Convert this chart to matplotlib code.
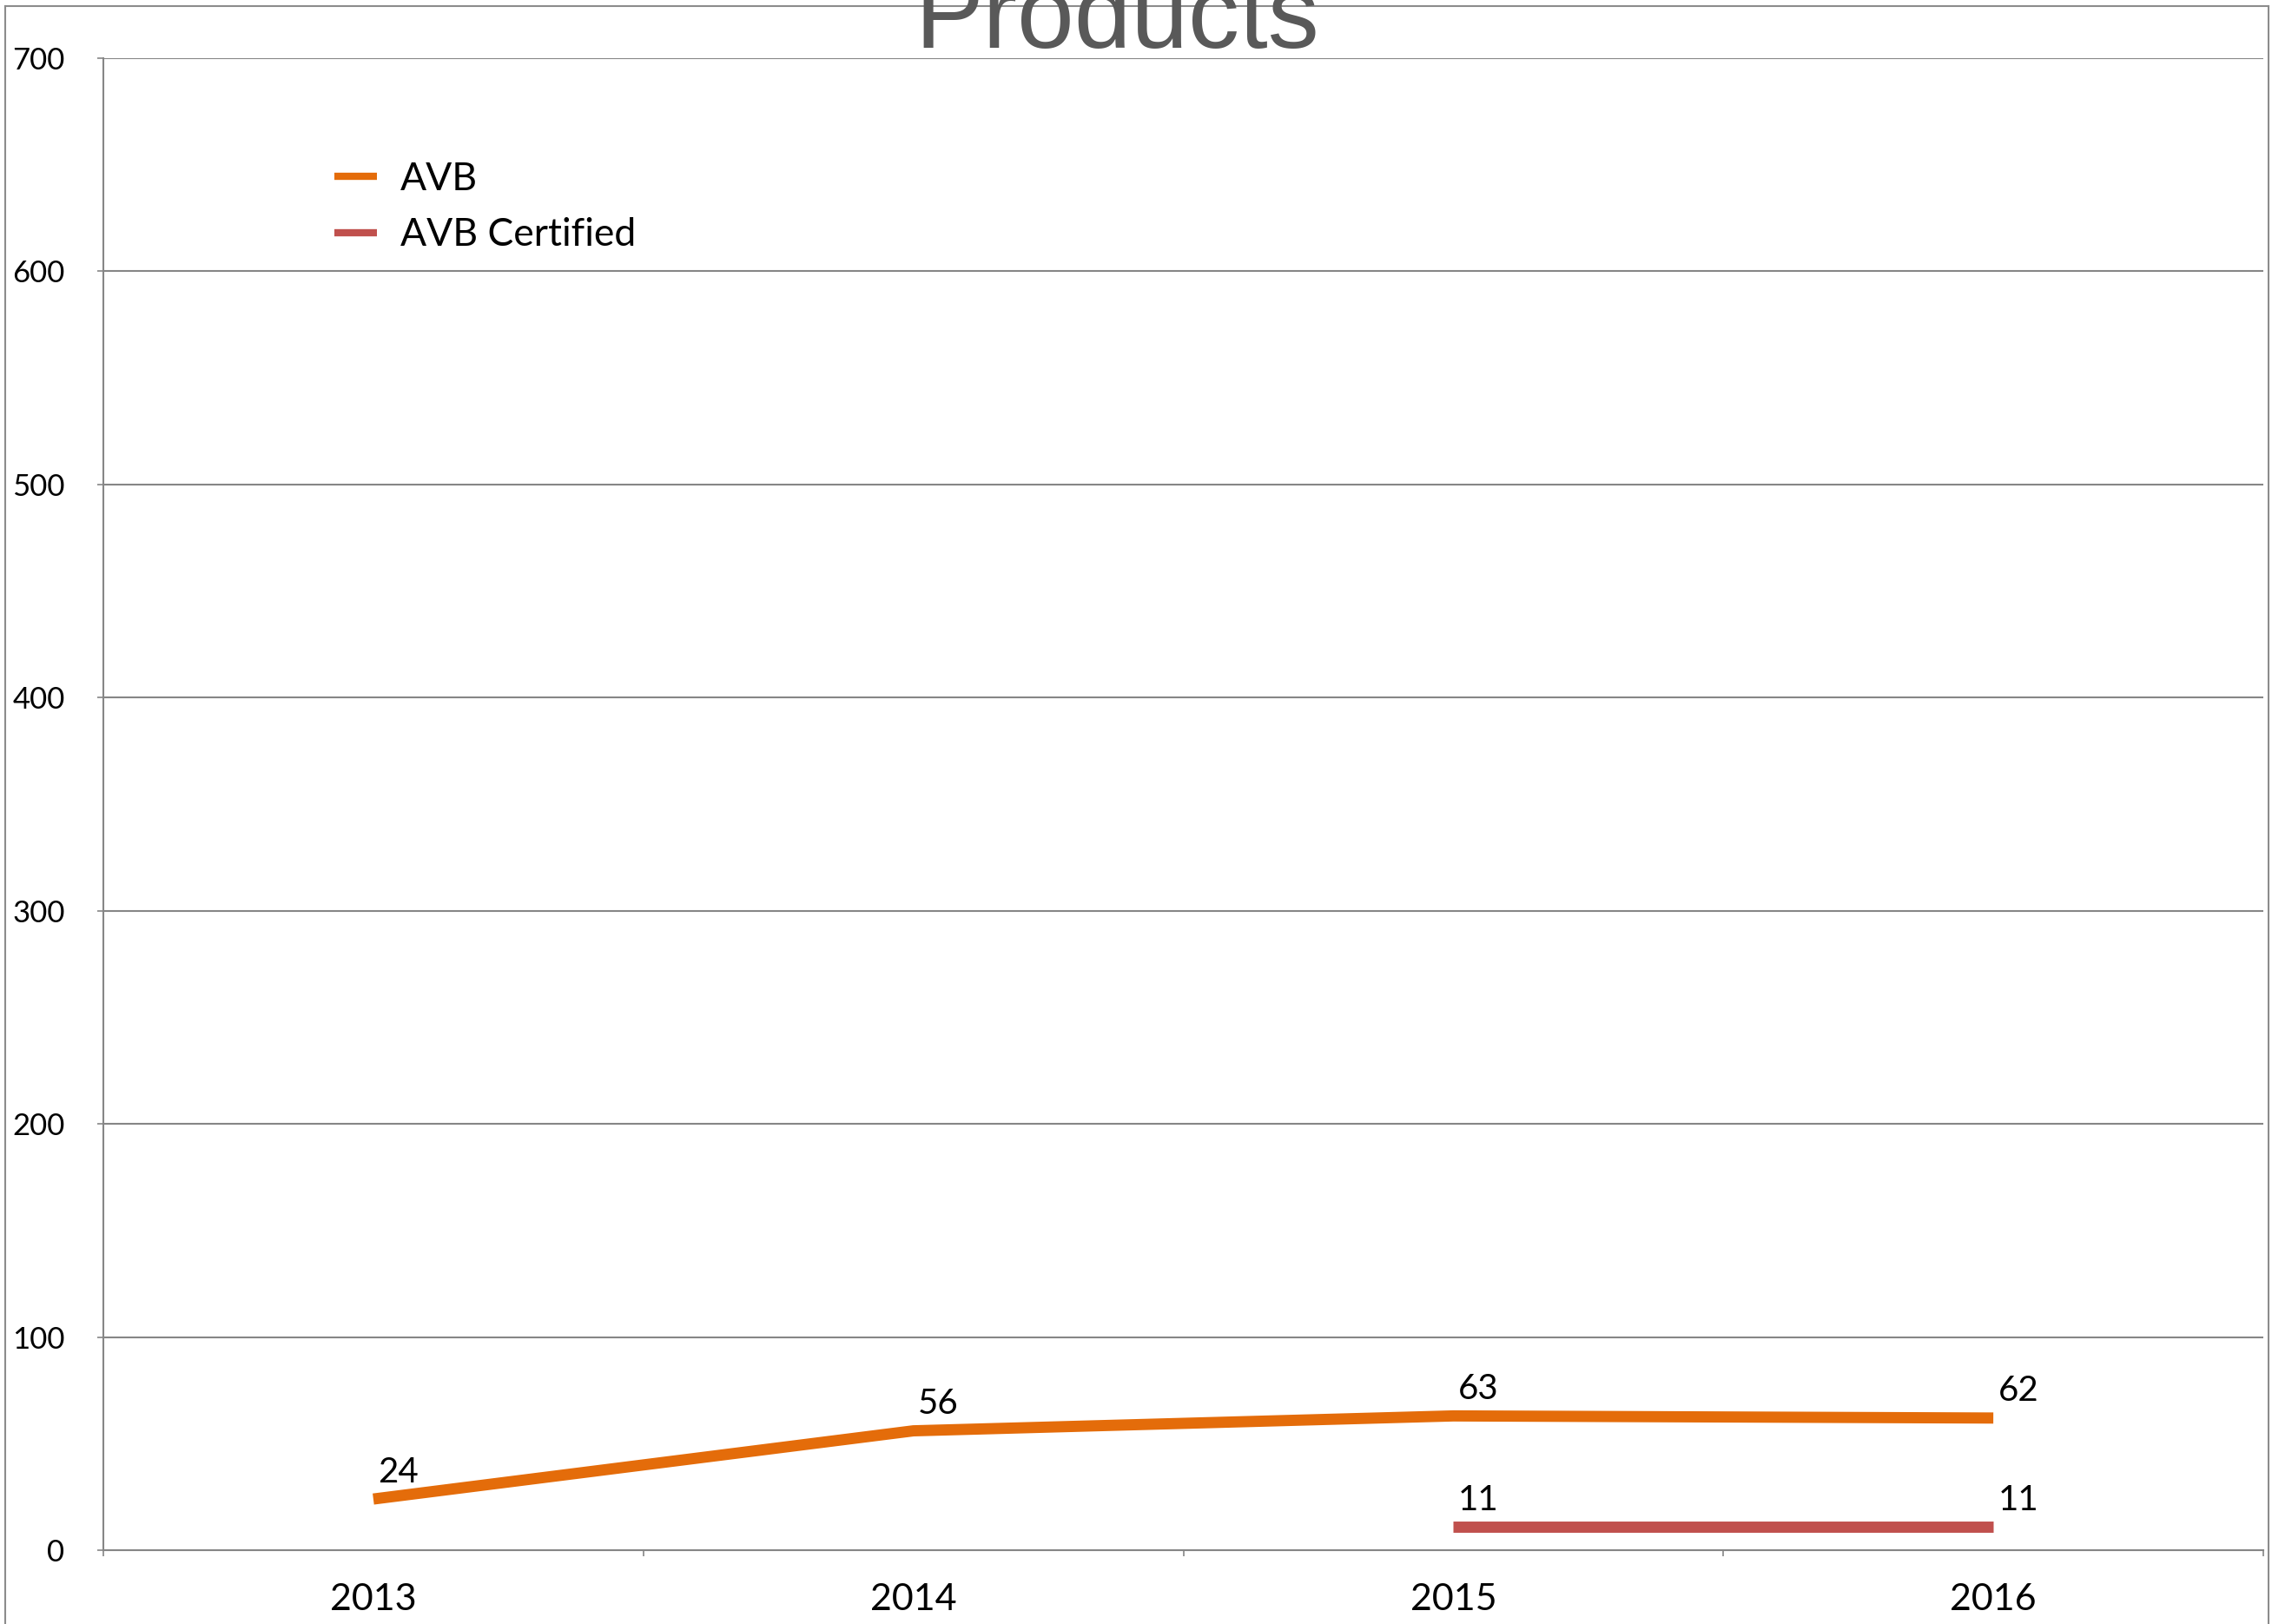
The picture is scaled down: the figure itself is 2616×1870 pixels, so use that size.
import matplotlib
matplotlib.use("Agg")
import matplotlib.pyplot as plt
from matplotlib.lines import Line2D
import numpy as np

# data
years = ["2013", "2014", "2015", "2016"]
avb = [24, 56, 63, 62]
avb_certified = [np.nan, np.nan, 11, 11]
yticks = [0, 100, 200, 300, 400, 500, 600, 700]

W, H, DPI = 2616, 1870, 100
orange = "#E46C0A"
red = "#C0504D"
grid = "#868686"

plt.rcParams["font.family"] = ["Lato", "DejaVu Sans"]

fig = plt.figure(figsize=(W / DPI, H / DPI), dpi=DPI)
ax = fig.add_axes([119 / W, 1 - 1785 / H, (2606 - 119) / W, (1785 - 67) / H])

x = np.arange(len(years))
ax.plot(x, avb, color=orange, lw=9.3, solid_capstyle="butt", solid_joinstyle="miter", label="AVB", zorder=3)
ax.plot(x, avb_certified, color=red, lw=9.3, solid_capstyle="butt", label="AVB Certified", zorder=3)

# data labels
for xi, v in zip(x, avb):
    ax.annotate(str(v), (xi, v), xytext=(4, 9), textcoords="offset points",
                ha="left", va="bottom", fontsize=29, color="black")
for xi, v in zip(x, avb_certified):
    if not np.isnan(v):
        ax.annotate(str(int(v)), (xi, v), xytext=(4, 9), textcoords="offset points",
                    ha="left", va="bottom", fontsize=29, color="black")

ax.set_xlim(-0.5, len(years) - 0.5)
ax.set_ylim(0, 700)
ax.set_yticks(yticks)
ax.set_yticklabels([str(t) for t in yticks], fontsize=25)
ax.yaxis.grid(True, color=grid, lw=1.5)
ax.set_axisbelow(True)

ax.set_xticks(np.arange(-0.5, len(years)))
ax.set_xticklabels([])
ax.set_xticks(x, minor=True)
ax.set_xticklabels(years, minor=True, fontsize=31)
ax.tick_params(axis="x", which="major", length=5, width=1.2, color=grid, direction="out")
ax.tick_params(axis="x", which="minor", length=0, pad=27)
ax.tick_params(axis="y", length=5, width=1.2, color=grid, pad=27)

for s in ["top", "right"]:
    ax.spines[s].set_visible(False)
for s in ["left", "bottom"]:
    ax.spines[s].set_color(grid)
    ax.spines[s].set_linewidth(1.5)

leg = ax.legend(loc="upper left", bbox_to_anchor=(385 / W, 1 - 186 / H), bbox_transform=fig.transFigure,
                frameon=False, fontsize=32, handlelength=1.1, handletextpad=0.6,
                labelspacing=0.52, borderpad=0, borderaxespad=0)
for h in leg.get_lines():
    h.set_linewidth(6)

# title, partly cut off at the top like the original
fig.text(1286 / W, 1 - 55 / H, "Products", ha="center", va="baseline",
         fontsize=85, color="#595959", family=["Liberation Sans", "DejaVu Sans"])

# outer frame of the chart area
fig.add_artist(Line2D([6 / W, 6 / W], [0, 1 - 7 / H], transform=fig.transFigure, color="#8c8c8c", lw=1.5))
fig.add_artist(Line2D([6 / W, 2612 / W], [1 - 7 / H, 1 - 7 / H], transform=fig.transFigure, color="#8c8c8c", lw=1.5))
fig.add_artist(Line2D([2612 / W, 2612 / W], [0, 1 - 7 / H], transform=fig.transFigure, color="#8c8c8c", lw=1.5))

fig.savefig("out.png", dpi=DPI)
